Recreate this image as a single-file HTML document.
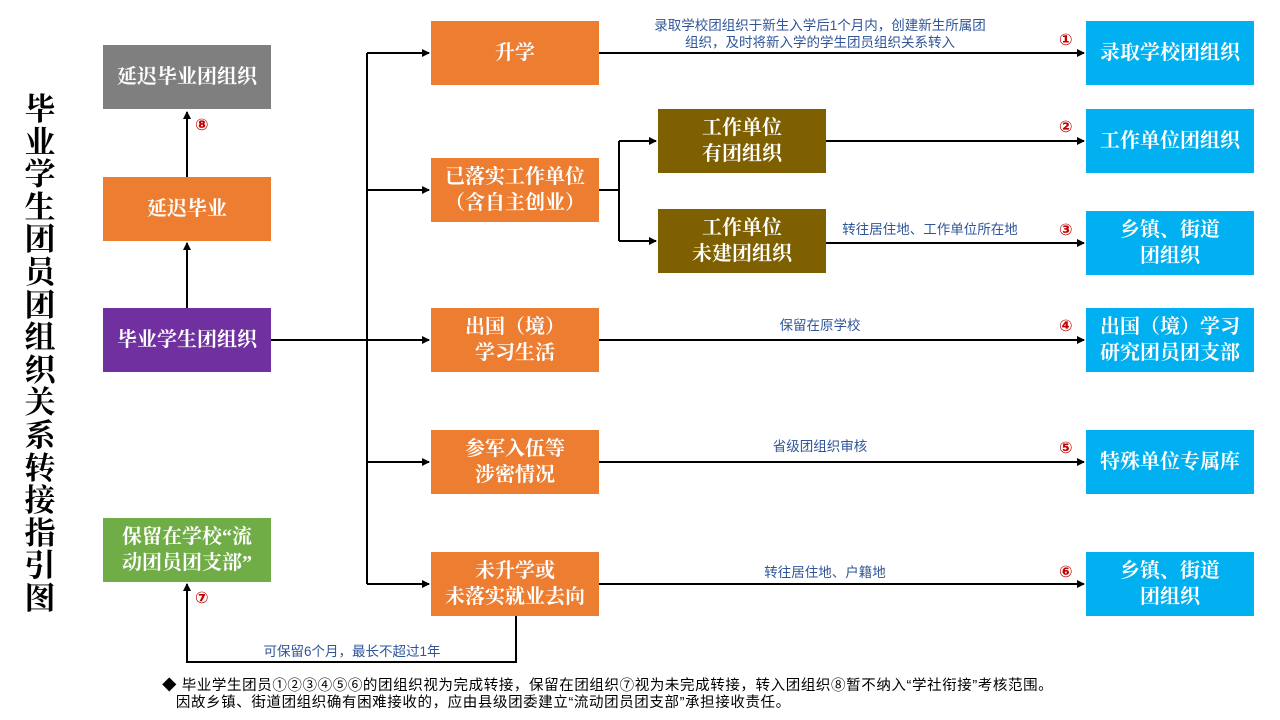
<!DOCTYPE html>
<html><head><meta charset="utf-8"><style>
body{margin:0;width:1280px;height:720px;background:#fff;position:relative;overflow:hidden;font-family:"Liberation Serif","Noto Serif CJK SC",serif}
.b{position:absolute;width:168px;height:64px;display:flex;align-items:center;justify-content:center;text-align:center;color:#fff;font-weight:bold;font-size:20px;line-height:26px}
.o{background:#ed7d31}.bl{background:#00b0f0}.br{background:#7f6000}
.l{position:absolute;font-family:"Liberation Sans","Noto Sans CJK SC",sans-serif;font-size:13.5px;color:#2f5597;text-align:center;line-height:17px}
.n{position:absolute;color:#c00000;font-size:16px;font-weight:bold;font-family:"DejaVu Sans",sans-serif}
.t{position:absolute;left:22px;top:94px;width:36px;font-size:31px;font-weight:bold;line-height:32.6px;text-align:center;color:#000}
.f{position:absolute;left:162px;top:678px;font-family:"Liberation Sans","Noto Sans CJK SC",sans-serif;font-size:14.5px;letter-spacing:0.6px;line-height:17px;color:#000;white-space:nowrap}
</style></head><body>
<svg width="1280" height="720" style="position:absolute;left:0;top:0">
<defs><marker id="a" markerWidth="8" markerHeight="8" refX="7" refY="4" orient="auto" markerUnits="userSpaceOnUse"><path d="M0,0L8,4L0,8z" fill="#000"/></marker></defs>
<g stroke="#000" stroke-width="2" fill="none">
<path d="M271,340H367"/><path d="M367,53V584"/>
<path d="M367,53H429" marker-end="url(#a)"/><path d="M367,190H429" marker-end="url(#a)"/><path d="M367,340H429" marker-end="url(#a)"/><path d="M367,462H429" marker-end="url(#a)"/><path d="M367,584H429" marker-end="url(#a)"/>
<path d="M599,190H619"/><path d="M619,141V241"/>
<path d="M619,141H656" marker-end="url(#a)"/><path d="M619,241H656" marker-end="url(#a)"/>
<path d="M599,53H1084" marker-end="url(#a)"/><path d="M826,141H1084" marker-end="url(#a)"/><path d="M826,243H1084" marker-end="url(#a)"/>
<path d="M599,340H1084" marker-end="url(#a)"/><path d="M599,462H1084" marker-end="url(#a)"/><path d="M599,584H1084" marker-end="url(#a)"/>
<path d="M187,308V243" marker-end="url(#a)"/><path d="M187,177V112" marker-end="url(#a)"/>
<path d="M516,616V662H187V584" marker-end="url(#a)"/>
</g></svg>
<div class="t">毕业学生团员团组织关系转接指引图</div>
<div class="b" style="left:103px;top:45px;background:#7f7f7f">延迟毕业团组织</div>
<div class="b o" style="left:103px;top:177px">延迟毕业</div>
<div class="b" style="left:103px;top:308px;background:#7030a0">毕业学生团组织</div>
<div class="b" style="left:103px;top:518px;background:#70ad47">保留在学校“流<br>动团员团支部”</div>
<div class="b o" style="left:431px;top:21px">升学</div>
<div class="b o" style="left:431px;top:158px">已落实工作单位<br>（含自主创业）</div>
<div class="b o" style="left:431px;top:308px">出国（境）<br>学习生活</div>
<div class="b o" style="left:431px;top:430px">参军入伍等<br>涉密情况</div>
<div class="b o" style="left:431px;top:552px">未升学或<br>未落实就业去向</div>
<div class="b br" style="left:658px;top:109px">工作单位<br>有团组织</div>
<div class="b br" style="left:658px;top:209px">工作单位<br>未建团组织</div>
<div class="b bl" style="left:1086px;top:21px">录取学校团组织</div>
<div class="b bl" style="left:1086px;top:109px">工作单位团组织</div>
<div class="b bl" style="left:1086px;top:211px">乡镇、街道<br>团组织</div>
<div class="b bl" style="left:1086px;top:308px">出国（境）学习<br>研究团员团支部</div>
<div class="b bl" style="left:1086px;top:430px">特殊单位专属库</div>
<div class="b bl" style="left:1086px;top:552px">乡镇、街道<br>团组织</div>
<div class="l" style="left:620px;top:17px;width:400px">录取学校团组织于新生入学后1个月内，创建新生所属团<br>组织，及时将新入学的学生团员组织关系转入</div>
<div class="l" style="left:830px;top:221px;width:200px">转往居住地、工作单位所在地</div>
<div class="l" style="left:720px;top:317px;width:200px">保留在原学校</div>
<div class="l" style="left:720px;top:438px;width:200px">省级团组织审核</div>
<div class="l" style="left:725px;top:564px;width:200px">转往居住地、户籍地</div>
<div class="l" style="left:237px;top:643px;width:230px">可保留6个月，最长不超过1年</div>
<div class="n" style="left:1059px;top:30px">①</div>
<div class="n" style="left:1059px;top:117px">②</div>
<div class="n" style="left:1059px;top:220px">③</div>
<div class="n" style="left:1059px;top:316px">④</div>
<div class="n" style="left:1059px;top:438px">⑤</div>
<div class="n" style="left:1059px;top:562px">⑥</div>
<div class="n" style="left:195px;top:588px">⑦</div>
<div class="n" style="left:195px;top:115px">⑧</div>
<div class="f">◆ 毕业学生团员①②③④⑤⑥的团组织视为完成转接，保留在团组织⑦视为未完成转接，转入团组织⑧暂不纳入“学社衔接”考核范围。<br>&nbsp;&nbsp;&nbsp;因故乡镇、街道团组织确有困难接收的，应由县级团委建立“流动团员团支部”承担接收责任。</div>
</body></html>
